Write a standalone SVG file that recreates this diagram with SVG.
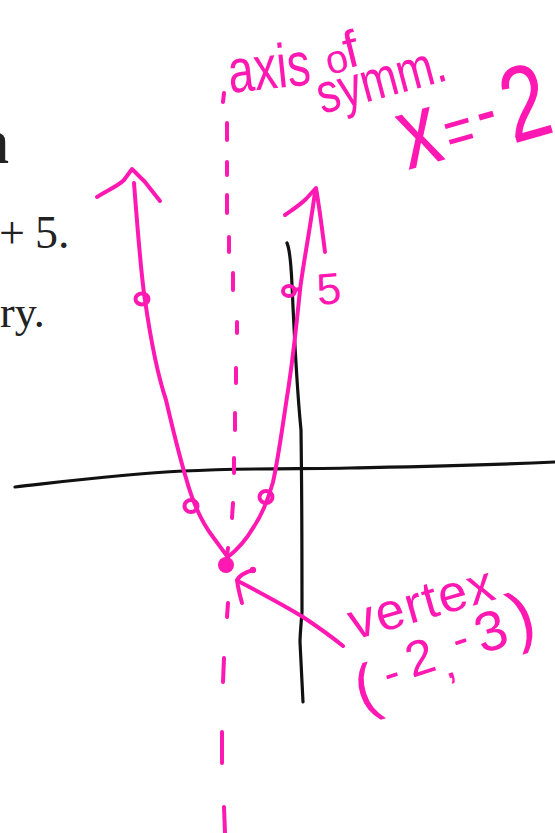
<svg xmlns="http://www.w3.org/2000/svg" width="555" height="833" viewBox="0 0 555 833">
<style>
.pk{fill:none;stroke:#ff18b2;stroke-width:4;stroke-linecap:round;stroke-linejoin:round}
.ax{fill:none;stroke:#111;stroke-width:3.2;stroke-linecap:round;stroke-linejoin:round}
.dash{fill:none;stroke:#ff18b2;stroke-width:4;stroke-linecap:round}
.hw{fill:#ff18b2;font-family:"Liberation Sans","DejaVu Sans",sans-serif}
.pr{fill:#222;font-family:"Liberation Serif","Times New Roman",serif}
</style>
<rect width="555" height="833" fill="#fff"/>
<g id="printed">
<text class="pr" x="9" y="163" font-size="64" font-weight="bold" text-anchor="end">n</text>
<text class="pr" y="248" font-size="46"><tspan x="-1">+</tspan><tspan x="35">5.</tspan></text>
<text class="pr" x="0" y="327" font-size="44">ry.</text>
</g>
<g id="axes">
<path class="ax" d="M15,487 C60,482 120,474 183,471 S300,469 350,468 S470,466 555,462"/>
<path class="ax" d="M287,243 C290,250 291,262 292,285 C294,330 297,390 301,430 C302,500 302,560 302,612 C301,625 300,635 300,642 C301,660 302,680 303,702"/>
</g>
<g id="symmetry-axis">
<path class="dash" d="M224,93 L223,102 M227,123 L227,140 M227,162 L227,175 M227,195 L227,213 M229,237 L229,252 M233,273 L233,290 M237,322 L237,333 M236,368 L236,383 M235,413 L235,430 M234,458 L234,473 M233,503 L232,518 M228,548 L227,555 M228,603 L227,617 M224,658 L223,682 M222,732 L222,763 M224,807 L225,833"/>
</g>
<g id="parabola">
<path class="pk" d="M134,183 C138,235 141,275 145,300 C150,335 156,370 166,400 C173,430 179,455 186,478 C192,500 200,520 213,537 C219,545 223,551 227,556"/>
<path class="pk" d="M97,197 C108,190 118,186 124,180 L132,169 L145,182 L160,201"/>
<path class="pk" d="M315,192 C310,230 303,265 300,290 C297,320 293,360 287,397 C282,430 278,460 273,482 C268,500 262,515 253,528 C246,540 238,549 228,557"/>
<path class="pk" d="M285,215 C292,210 300,205 306,199 L316,188 C319,205 322,228 325,252"/>
</g>
<g id="points">
<ellipse class="pk" cx="142" cy="299" rx="6.5" ry="5.5" stroke-width="4.5"/>
<ellipse class="pk" cx="289" cy="291" rx="6" ry="5" stroke-width="4.5"/>
<path class="pk" d="M294,290 L300,289"/>
<ellipse class="pk" cx="191" cy="506" rx="6.5" ry="6" stroke-width="6"/>
<ellipse class="pk" cx="266" cy="497" rx="6.5" ry="6" stroke-width="6"/>
<circle cx="226" cy="565" r="8" fill="#ff18b2"/>
</g>
<g id="vertex-arrow">
<circle cx="253" cy="570" r="3.2" fill="#ff18b2"/>
<path class="pk" d="M253,570 C246,572 240,575 237,580 C238,588 240,596 242,603"/>
<path class="pk" d="M238,581 C255,590 280,603 303,617 C318,627 332,637 343,646"/>
</g>
<g id="labels">
<text class="hw" transform="translate(230,93) rotate(-6) scale(0.75,1)" font-size="62">axis</text>
<text class="hw" transform="translate(329,75) rotate(-14)"><tspan x="0" y="0" font-size="40">o</tspan><tspan x="20" y="-2" font-size="52">f</tspan></text>
<text class="hw" transform="translate(322,114) rotate(-15) scale(0.8,1)" font-size="56">symm.</text>
<g id="x-eq">
<text class="hw" transform="translate(408,170) rotate(-16) scale(1,1.3)" font-size="80">x<tspan x="45" y="-1.5" font-size="50" dy="0" transform="">=</tspan><tspan x="80" y="-7.7" font-size="60">-</tspan><tspan x="108" y="3" font-size="82" dy="0">2</tspan></text>
</g>
<text class="hw" transform="translate(318,305) rotate(-5)" font-size="44">5</text>
<text class="hw" transform="translate(354,640) rotate(-16)" font-size="52" letter-spacing="1.5">vertex</text>
<text class="hw" transform="translate(362,712) rotate(-18)"><tspan x="0" y="0" font-size="64">(</tspan><tspan x="32" y="-13" font-size="46">-</tspan><tspan x="58" y="-17" font-size="50">2</tspan><tspan x="90" y="-5" font-size="46">,</tspan><tspan x="108" y="-24" font-size="46">-</tspan><tspan x="132" y="-18" font-size="56">3</tspan><tspan x="170" y="-19" font-size="68">)</tspan></text>
</g>
</svg>
